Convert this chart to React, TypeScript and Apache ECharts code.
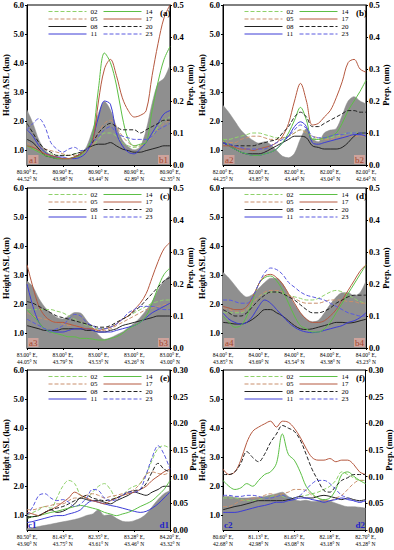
import React, { useEffect, useRef } from 'react';
import * as echarts from 'echarts';

const FONT = '"Liberation Serif", "Times New Roman", serif';

const HOURS = ['02', '05', '08', '11', '14', '17', '20', '23'];
const HOUR_COLORS = ['#8fd16a', '#c98f6c', '#222222', '#3c3cd6', '#5cbf45', '#b5583f', '#222222', '#5a5ae0'];
const HOUR_DASHED = [true, true, false, false, false, false, true, true];

const PANEL_TITLES = ['(a)', '(b)', '(c)', '(d)', '(e)', '(f)'];
const CORNER_LABELS = [['a1', 'b1'], ['a2', 'b2'], ['a3', 'b3'], ['a4', 'b4'], ['c1', 'd1'], ['c2', 'd2']];

const X_LABELS_A = ['80.90° E,\n44.52° N', '80.90° E,\n43.98° N', '80.90° E,\n43.44° N', '80.90° E,\n42.89° N', '80.90° E,\n42.35° N'];
const X_LABELS_B = ['82.00° E,\n44.25° N', '82.00° E,\n43.85° N', '82.00° E,\n43.44° N', '82.00° E,\n43.04° N', '82.00° E,\n42.64° N'];
const X_LABELS_C = ['83.00° E,\n44.05° N', '83.00° E,\n43.79° N', '83.00° E,\n43.53° N', '83.00° E,\n43.26° N', '83.00° E,\n43.00° N'];
const X_LABELS_D = ['84.00° E,\n43.85° N', '84.00° E,\n43.69° N', '84.00° E,\n43.54° N', '84.00° E,\n43.38° N', '84.00° E,\n43.23° N'];
const X_LABELS_E = ['80.50° E,\n43.90° N', '81.43° E,\n43.75° N', '82.35° E,\n43.61° N', '83.28° E,\n43.46° N', '84.20° E,\n43.32° N'];
const X_LABELS_F = ['80.60° E,\n42.68° N', '81.13° E,\n42.98° N', '81.65° E,\n43.08° N', '82.18° E,\n43.18° N', '82.70° E,\n43.28° N'];

const HEIGHT_TICKS = [1, 2, 3, 4, 5, 6];
const PREP_MAX = [0.5, 0.5, 0.5, 0.5, 0.3, 0.3];
const PREP_STEP = [0.1, 0.1, 0.1, 0.1, 0.05, 0.05];

// terrain height (km)
const TERRAIN_A = [2.39, 1.93, 1.36, 1.02, 0.84, 0.79, 0.73, 0.73, 0.79, 0.9, 1.13, 1.7, 2.28, 2.68, 2.39, 1.82, 1.36, 1.13, 1.02, 1.13, 1.7, 2.62, 3.31, 3.48, 3.94];
const TERRAIN_B = [2.55, 2.3, 2.0, 1.7, 1.5, 1.35, 1.25, 1.3, 1.2, 1.0, 0.8, 0.75, 0.9, 1.4, 1.75, 1.4, 1.3, 1.6, 1.7, 1.75, 2.2, 2.7, 2.85, 2.7, 2.6];
const TERRAIN_C = [2.8, 2.6, 2.2, 1.9, 1.7, 1.55, 1.5, 1.6, 1.72, 1.7, 1.45, 1.2, 0.95, 0.8, 0.85, 0.95, 1.05, 1.2, 1.35, 1.55, 1.8, 2.1, 2.5, 2.8, 3.0];
const TERRAIN_D = [3.1, 2.9, 2.65, 2.4, 2.25, 2.35, 2.55, 2.75, 2.9, 2.9, 2.7, 2.35, 2.0, 1.7, 1.5, 1.4, 1.45, 1.7, 2.0, 2.25, 2.4, 2.4, 2.3, 2.4, 2.8];
const TERRAIN_E = [0.55, 0.58, 0.62, 0.66, 0.7, 0.74, 0.78, 0.82, 0.86, 0.92, 1.0, 1.05, 1.2, 1.0, 1.02, 0.9, 0.8, 0.78, 0.82, 0.9, 1.05, 1.3, 1.55, 1.75, 1.85];
const TERRAIN_F = [1.65, 1.65, 1.62, 1.6, 1.6, 1.62, 1.63, 1.65, 1.7, 1.75, 1.8, 1.65, 1.55, 1.5, 1.52, 1.48, 1.5, 1.55, 1.5, 1.42, 1.35, 1.3, 1.3, 1.28, 1.25];

// precipitation (mm) by hour
const PREP_A = {
  '02': [0.06, 0.05, 0.045, 0.04, 0.035, 0.03, 0.03, 0.03, 0.035, 0.04, 0.05, 0.06, 0.08, 0.1, 0.1, 0.09, 0.07, 0.06, 0.055, 0.06, 0.07, 0.09, 0.12, 0.14, 0.15],
  '05': [0.07, 0.06, 0.055, 0.05, 0.045, 0.04, 0.035, 0.03, 0.03, 0.035, 0.04, 0.06, 0.1, 0.13, 0.14, 0.12, 0.09, 0.07, 0.06, 0.06, 0.07, 0.09, 0.11, 0.13, 0.14],
  '08': [0.08, 0.07, 0.05, 0.03, 0.025, 0.02, 0.02, 0.02, 0.025, 0.035, 0.05, 0.06, 0.065, 0.065, 0.07, 0.06, 0.05, 0.045, 0.04, 0.04, 0.045, 0.05, 0.055, 0.06, 0.06],
  '11': [0.11, 0.09, 0.06, 0.04, 0.03, 0.025, 0.025, 0.02, 0.02, 0.025, 0.04, 0.08, 0.15, 0.2, 0.19, 0.1, 0.06, 0.04, 0.035, 0.05, 0.07, 0.1, 0.13, 0.16, 0.17],
  '14': [0.06, 0.05, 0.04, 0.03, 0.025, 0.02, 0.02, 0.02, 0.025, 0.03, 0.05, 0.09, 0.24, 0.35, 0.32, 0.25, 0.15, 0.08, 0.06, 0.065, 0.07, 0.17, 0.26, 0.33, 0.37],
  '17': [0.06, 0.055, 0.045, 0.035, 0.03, 0.025, 0.02, 0.02, 0.025, 0.035, 0.05, 0.07, 0.2, 0.3, 0.33, 0.28, 0.21, 0.17, 0.15, 0.155, 0.17, 0.28, 0.38, 0.46, 0.5],
  '20': [0.13, 0.1, 0.07, 0.05, 0.04, 0.03, 0.03, 0.03, 0.035, 0.04, 0.05, 0.07, 0.1, 0.12, 0.13, 0.12, 0.11, 0.11, 0.11, 0.1, 0.11, 0.12, 0.13, 0.14, 0.14],
  '23': [0.11, 0.13, 0.145, 0.12, 0.07, 0.05, 0.04, 0.05, 0.055, 0.045, 0.05, 0.07, 0.09, 0.11, 0.12, 0.1, 0.09, 0.085, 0.08, 0.08, 0.08, 0.09, 0.11, 0.12, 0.13],
};
const PREP_B = {
  '02': [0.08, 0.08, 0.085, 0.09, 0.095, 0.1, 0.1, 0.095, 0.09, 0.085, 0.085, 0.09, 0.1, 0.11, 0.1, 0.085, 0.08, 0.08, 0.085, 0.09, 0.095, 0.1, 0.1, 0.1, 0.1],
  '05': [0.075, 0.07, 0.07, 0.08, 0.085, 0.09, 0.09, 0.085, 0.08, 0.08, 0.085, 0.09, 0.1, 0.11, 0.1, 0.09, 0.085, 0.08, 0.08, 0.085, 0.09, 0.09, 0.09, 0.09, 0.09],
  '08': [0.07, 0.06, 0.05, 0.04, 0.035, 0.035, 0.035, 0.04, 0.05, 0.06, 0.07, 0.08, 0.09, 0.09, 0.085, 0.06, 0.055, 0.05, 0.05, 0.05, 0.055, 0.07, 0.09, 0.1, 0.1],
  '11': [0.07, 0.06, 0.05, 0.04, 0.035, 0.03, 0.03, 0.035, 0.04, 0.05, 0.07, 0.09, 0.12, 0.135, 0.12, 0.07, 0.065, 0.07, 0.075, 0.08, 0.085, 0.09, 0.095, 0.095, 0.09],
  '14': [0.08, 0.06, 0.05, 0.04, 0.035, 0.03, 0.03, 0.035, 0.04, 0.05, 0.07, 0.1, 0.14, 0.18, 0.14, 0.08, 0.08, 0.085, 0.09, 0.1, 0.13, 0.17, 0.2, 0.23, 0.265],
  '17': [0.06, 0.06, 0.055, 0.05, 0.05, 0.045, 0.05, 0.055, 0.06, 0.07, 0.09, 0.13, 0.2, 0.255, 0.2, 0.125, 0.13, 0.15, 0.17, 0.21, 0.26, 0.32, 0.33, 0.3, 0.29],
  '20': [0.07, 0.065, 0.06, 0.06, 0.06, 0.06, 0.065, 0.07, 0.075, 0.08, 0.1, 0.12, 0.15, 0.165, 0.15, 0.12, 0.12, 0.13, 0.14, 0.15, 0.16, 0.17, 0.17, 0.165, 0.165],
  '23': [0.07, 0.065, 0.06, 0.055, 0.05, 0.05, 0.05, 0.05, 0.06, 0.07, 0.08, 0.09, 0.11, 0.125, 0.115, 0.09, 0.085, 0.085, 0.09, 0.095, 0.095, 0.1, 0.1, 0.1, 0.1],
};
const PREP_C = {
  '02': [0.12, 0.12, 0.12, 0.12, 0.12, 0.115, 0.11, 0.1, 0.09, 0.08, 0.07, 0.065, 0.06, 0.06, 0.065, 0.075, 0.09, 0.1, 0.11, 0.12, 0.13, 0.14, 0.145, 0.15, 0.15],
  '05': [0.11, 0.1, 0.095, 0.09, 0.085, 0.08, 0.075, 0.07, 0.07, 0.065, 0.06, 0.06, 0.055, 0.055, 0.06, 0.07, 0.08, 0.09, 0.1, 0.11, 0.12, 0.125, 0.13, 0.135, 0.14],
  '08': [0.07, 0.065, 0.06, 0.055, 0.055, 0.055, 0.06, 0.06, 0.06, 0.06, 0.055, 0.055, 0.05, 0.05, 0.055, 0.06, 0.07, 0.075, 0.08, 0.085, 0.09, 0.095, 0.1, 0.1, 0.1],
  '11': [0.2, 0.13, 0.08, 0.06, 0.05, 0.05, 0.05, 0.055, 0.06, 0.06, 0.06, 0.055, 0.05, 0.05, 0.05, 0.055, 0.06, 0.065, 0.07, 0.08, 0.095, 0.11, 0.12, 0.13, 0.14],
  '14': [0.12, 0.1, 0.08, 0.06, 0.05, 0.045, 0.04, 0.035, 0.035, 0.03, 0.03, 0.028, 0.025, 0.025, 0.03, 0.035, 0.045, 0.06, 0.07, 0.08, 0.1, 0.14, 0.19, 0.23, 0.25],
  '17': [0.26, 0.19, 0.13, 0.1, 0.085, 0.08, 0.08, 0.075, 0.07, 0.065, 0.06, 0.06, 0.055, 0.06, 0.065, 0.075, 0.09, 0.1, 0.12, 0.14, 0.17, 0.22, 0.27, 0.31, 0.33],
  '20': [0.145, 0.14, 0.13, 0.12, 0.11, 0.1, 0.095, 0.09, 0.085, 0.08, 0.075, 0.07, 0.065, 0.065, 0.07, 0.08, 0.09, 0.1, 0.115, 0.13, 0.15, 0.17, 0.19, 0.21, 0.22],
  '23': [0.09, 0.08, 0.07, 0.06, 0.055, 0.06, 0.07, 0.09, 0.105, 0.1, 0.08, 0.07, 0.06, 0.06, 0.065, 0.075, 0.09, 0.11, 0.12, 0.13, 0.13, 0.13, 0.125, 0.12, 0.12],
};
const PREP_D = {
  '02': [0.11, 0.11, 0.11, 0.11, 0.12, 0.14, 0.16, 0.17, 0.175, 0.175, 0.17, 0.165, 0.16, 0.155, 0.15, 0.15, 0.155, 0.165, 0.175, 0.18, 0.175, 0.165, 0.155, 0.145, 0.14],
  '05': [0.125, 0.12, 0.115, 0.115, 0.12, 0.14, 0.16, 0.175, 0.18, 0.18, 0.175, 0.165, 0.155, 0.145, 0.14, 0.14, 0.14, 0.145, 0.15, 0.15, 0.15, 0.145, 0.145, 0.14, 0.14],
  '08': [0.08, 0.078, 0.075, 0.075, 0.08, 0.09, 0.105, 0.12, 0.12, 0.11, 0.1, 0.085, 0.07, 0.06, 0.058, 0.06, 0.065, 0.07, 0.075, 0.08, 0.08, 0.078, 0.08, 0.085, 0.09],
  '11': [0.11, 0.09, 0.08, 0.075, 0.08, 0.1, 0.13, 0.15, 0.14, 0.12, 0.1, 0.08, 0.065, 0.055, 0.05, 0.048, 0.05, 0.055, 0.06, 0.065, 0.07, 0.08, 0.085, 0.095, 0.11],
  '14': [0.1, 0.08, 0.065, 0.07, 0.1, 0.15, 0.2, 0.22, 0.225, 0.21, 0.18, 0.14, 0.1, 0.07, 0.06, 0.05, 0.05, 0.06, 0.08, 0.11, 0.14, 0.17, 0.2, 0.23, 0.26],
  '17': [0.13, 0.125, 0.12, 0.12, 0.13, 0.16, 0.2, 0.225, 0.23, 0.22, 0.2, 0.17, 0.14, 0.11, 0.09, 0.08, 0.08, 0.085, 0.1, 0.12, 0.15, 0.18, 0.21, 0.24, 0.26],
  '20': [0.12, 0.11, 0.1, 0.1, 0.11, 0.13, 0.15, 0.165, 0.175, 0.175, 0.17, 0.16, 0.15, 0.135, 0.12, 0.11, 0.11, 0.115, 0.125, 0.14, 0.15, 0.16, 0.165, 0.165, 0.165],
  '23': [0.15, 0.15, 0.145, 0.14, 0.14, 0.16, 0.2, 0.235, 0.25, 0.245, 0.23, 0.205, 0.19, 0.175, 0.165, 0.16, 0.155, 0.15, 0.14, 0.13, 0.12, 0.11, 0.105, 0.1, 0.1],
};
const PREP_E = {
  '02': [0.027, 0.033, 0.038, 0.044, 0.041, 0.06, 0.082, 0.093, 0.087, 0.065, 0.06, 0.071, 0.082, 0.087, 0.076, 0.06, 0.065, 0.076, 0.082, 0.087, 0.104, 0.131, 0.153, 0.158, 0.153],
  '05': [0.038, 0.038, 0.041, 0.044, 0.046, 0.049, 0.049, 0.055, 0.06, 0.06, 0.065, 0.068, 0.065, 0.06, 0.063, 0.065, 0.068, 0.071, 0.076, 0.087, 0.104, 0.109, 0.106, 0.104, 0.109],
  '08': [0.025, 0.025, 0.027, 0.033, 0.038, 0.033, 0.035, 0.041, 0.049, 0.06, 0.057, 0.055, 0.055, 0.052, 0.049, 0.055, 0.06, 0.065, 0.071, 0.068, 0.065, 0.071, 0.076, 0.082, 0.082],
  '11': [0.014, 0.016, 0.019, 0.022, 0.025, 0.027, 0.027, 0.03, 0.033, 0.038, 0.049, 0.055, 0.052, 0.049, 0.046, 0.044, 0.041, 0.038, 0.035, 0.033, 0.035, 0.041, 0.049, 0.06, 0.071],
  '14': [0.022, 0.025, 0.027, 0.03, 0.033, 0.035, 0.038, 0.041, 0.044, 0.046, 0.044, 0.041, 0.038, 0.033, 0.03, 0.027, 0.03, 0.033, 0.038, 0.044, 0.049, 0.055, 0.065, 0.076, 0.093],
  '17': [0.033, 0.03, 0.027, 0.033, 0.038, 0.044, 0.052, 0.06, 0.071, 0.065, 0.06, 0.055, 0.052, 0.049, 0.055, 0.06, 0.065, 0.068, 0.071, 0.076, 0.082, 0.093, 0.101, 0.109, 0.114],
  '20': [0.022, 0.025, 0.027, 0.033, 0.038, 0.041, 0.044, 0.049, 0.055, 0.06, 0.065, 0.06, 0.057, 0.055, 0.057, 0.06, 0.065, 0.071, 0.074, 0.076, 0.087, 0.109, 0.125, 0.114, 0.109],
  '23': [0.027, 0.044, 0.065, 0.068, 0.06, 0.055, 0.057, 0.052, 0.044, 0.049, 0.06, 0.076, 0.074, 0.06, 0.055, 0.057, 0.065, 0.071, 0.071, 0.076, 0.104, 0.136, 0.158, 0.142, 0.114],
};
const PREP_F = {
  '02': [0.06, 0.06, 0.06, 0.057, 0.055, 0.055, 0.057, 0.06, 0.063, 0.065, 0.063, 0.06, 0.06, 0.063, 0.065, 0.068, 0.071, 0.076, 0.082, 0.093, 0.109, 0.104, 0.098, 0.093, 0.093],
  '05': [0.044, 0.044, 0.049, 0.055, 0.057, 0.06, 0.06, 0.065, 0.068, 0.065, 0.068, 0.071, 0.076, 0.076, 0.074, 0.065, 0.06, 0.055, 0.055, 0.06, 0.065, 0.076, 0.087, 0.093, 0.093],
  '08': [0.038, 0.041, 0.044, 0.046, 0.049, 0.052, 0.055, 0.055, 0.055, 0.055, 0.055, 0.057, 0.06, 0.063, 0.06, 0.06, 0.063, 0.065, 0.063, 0.06, 0.057, 0.06, 0.057, 0.055, 0.057],
  '11': [0.033, 0.033, 0.033, 0.035, 0.038, 0.041, 0.044, 0.046, 0.049, 0.052, 0.052, 0.055, 0.057, 0.06, 0.06, 0.057, 0.055, 0.052, 0.055, 0.057, 0.06, 0.057, 0.055, 0.052, 0.055],
  '14': [0.093, 0.082, 0.076, 0.079, 0.087, 0.082, 0.093, 0.104, 0.109, 0.125, 0.18, 0.142, 0.131, 0.109, 0.082, 0.068, 0.06, 0.057, 0.06, 0.076, 0.104, 0.109, 0.101, 0.093, 0.087],
  '17': [0.114, 0.104, 0.109, 0.131, 0.164, 0.185, 0.193, 0.199, 0.204, 0.193, 0.204, 0.202, 0.191, 0.174, 0.153, 0.136, 0.131, 0.131, 0.134, 0.128, 0.131, 0.131, 0.123, 0.109, 0.104],
  '20': [0.104, 0.104, 0.109, 0.125, 0.147, 0.136, 0.128, 0.142, 0.164, 0.18, 0.196, 0.191, 0.185, 0.169, 0.142, 0.114, 0.093, 0.074, 0.071, 0.082, 0.093, 0.098, 0.104, 0.104, 0.104],
  '23': [0.065, 0.065, 0.063, 0.063, 0.065, 0.065, 0.063, 0.06, 0.06, 0.063, 0.065, 0.06, 0.06, 0.065, 0.076, 0.087, 0.093, 0.093, 0.087, 0.076, 0.065, 0.06, 0.055, 0.052, 0.055],
};

const X_LABELS = [X_LABELS_A, X_LABELS_B, X_LABELS_C, X_LABELS_D, X_LABELS_E, X_LABELS_F];
const TERRAINS = [TERRAIN_A, TERRAIN_B, TERRAIN_C, TERRAIN_D, TERRAIN_E, TERRAIN_F];
const PREPS: Record<string, number[]>[] = [PREP_A, PREP_B, PREP_C, PREP_D, PREP_E, PREP_F];

const GRID_W = 143;
const GRID_H = 160;
const GRID_POS = [
  [27, 5], [223, 5],
  [27, 188], [223, 188],
  [27, 370], [223, 370],
];

function buildOption() {
  const grid: any[] = [];
  const xAxis: any[] = [];
  const yAxis: any[] = [];
  const series: any[] = [];
  const legend: any[] = [];
  const graphic: any[] = [];
  const lastIdx = TERRAIN_A.length - 1;
  const step = lastIdx / 4;

  GRID_POS.forEach(([gl, gt], p) => {
    grid.push({
      left: gl, top: gt, width: GRID_W, height: GRID_H,
      show: true, borderColor: '#000', borderWidth: 1, backgroundColor: '#fff',
    });
    xAxis.push({
      type: 'value', gridIndex: p, min: 0, max: lastIdx, interval: step,
      axisLine: { lineStyle: { color: '#000' } },
      axisTick: { length: 2, lineStyle: { color: '#000' } },
      splitLine: { show: false },
      axisLabel: {
        fontFamily: FONT, fontSize: 5.5, lineHeight: 7, color: '#000', margin: 3,
        formatter: (v: number) => X_LABELS[p][Math.round(v / step)] ?? '',
      },
    });
    yAxis.push({
      type: 'value', gridIndex: p, position: 'left', min: 0.5, max: 6,
      name: 'Height ASL (km)', nameLocation: 'middle', nameRotate: 90, nameGap: 16.5,
      nameMoveOverlap: false,
      nameTextStyle: { fontFamily: FONT, fontSize: 8.5, fontWeight: 'bold', color: '#000' },
      axisLine: { show: true, lineStyle: { color: '#000' } },
      axisTick: { show: true, length: 2, customValues: HEIGHT_TICKS, lineStyle: { color: '#000' } },
      splitLine: { show: false },
      axisLabel: {
        fontFamily: FONT, fontSize: 8.5, fontWeight: 'bold', color: '#000', margin: 3,
        customValues: HEIGHT_TICKS,
        formatter: (v: number) => v.toFixed(1),
      },
    });
    yAxis.push({
      type: 'value', gridIndex: p, position: 'right', min: 0, max: PREP_MAX[p], interval: PREP_STEP[p],
      name: 'Prep. (mm)', nameLocation: 'middle', nameRotate: 90, nameGap: p >= 4 ? 18.5 : 15,
      nameMoveOverlap: false,
      nameTextStyle: { fontFamily: FONT, fontSize: 8.5, fontWeight: 'bold', color: '#000' },
      axisLine: { show: true, lineStyle: { color: '#000' } },
      axisTick: { show: true, length: 2, lineStyle: { color: '#000' } },
      splitLine: { show: false },
      axisLabel: {
        fontFamily: FONT, fontSize: 8.5, fontWeight: 'bold', color: '#000', margin: 3,
        formatter: (v: number) => v.toFixed(p >= 4 ? 2 : 1),
      },
    });
    series.push({
      name: 'terrain', type: 'line', xAxisIndex: p, yAxisIndex: 2 * p,
      data: TERRAINS[p].map((v, i) => [i, v]),
      smooth: 0.3, symbol: 'none',
      lineStyle: { width: 0.5, color: '#8a8a8a' },
      areaStyle: { color: '#8f8f8f', opacity: 1, origin: 'start' },
      z: 1,
    });
    HOURS.forEach((h, k) => {
      series.push({
        name: h, type: 'line', xAxisIndex: p, yAxisIndex: 2 * p + 1,
        data: PREPS[p][h].map((v, i) => [i, v]),
        smooth: 0.35, symbol: 'none', showSymbol: false,
        lineStyle: { width: 1, color: HOUR_COLORS[k], type: HOUR_DASHED[k] ? [4, 2] : 'solid' },
        itemStyle: { color: HOUR_COLORS[k] },
        z: 3,
      });
    });
    const legBase = {
      orient: 'vertical', top: gt + 3, itemWidth: 38, itemHeight: 6, itemGap: 0.5, padding: 0,
      itemStyle: { opacity: 0 },
      lineStyle: { width: 1 },
      textStyle: { fontFamily: FONT, fontSize: 7, lineHeight: 6.5, color: '#000', padding: [0, 0, 0, -1] },
    };
    legend.push({ ...legBase, left: gl + 21, data: ['02', '05', '08', '11'] });
    legend.push({ ...legBase, left: gl + 76, data: ['14', '17', '20', '23'] });

    graphic.push({
      type: 'text', x: gl + 133, y: gt + 3, z: 10,
      style: { text: PANEL_TITLES[p], font: `bold 9px ${FONT}`, fill: '#000' },
    });
    const blue = p >= 4;
    const cornerStyle = blue
      ? { font: `bold 9px ${FONT}`, fill: '#2323c8' }
      : { font: `9px ${FONT}`, fill: '#a0452d', backgroundColor: 'rgba(226,170,160,0.75)', padding: [0, 1, 0, 1] };
    graphic.push({
      type: 'text', x: gl + 1, y: gt + GRID_H - 10, z: 10,
      style: { text: CORNER_LABELS[p][0], ...cornerStyle },
    });
    graphic.push({
      type: 'text', x: gl + GRID_W - 1, y: gt + GRID_H - 10, z: 10,
      style: { text: CORNER_LABELS[p][1], align: 'right', ...cornerStyle },
    });
  });

  return { animation: false, backgroundColor: '#fff', grid, xAxis, yAxis, series, legend, graphic };
}

export default function App() {
  const ref = useRef<HTMLDivElement>(null);
  useEffect(() => {
    if (!ref.current) return;
    const chart = echarts.init(ref.current, undefined, { renderer: 'svg' });
    chart.setOption(buildOption() as any);
    return () => chart.dispose();
  }, []);
  return <div ref={ref} style={{ position: 'absolute', left: 0, top: 0, width: 394, height: 550 }} />;
}
